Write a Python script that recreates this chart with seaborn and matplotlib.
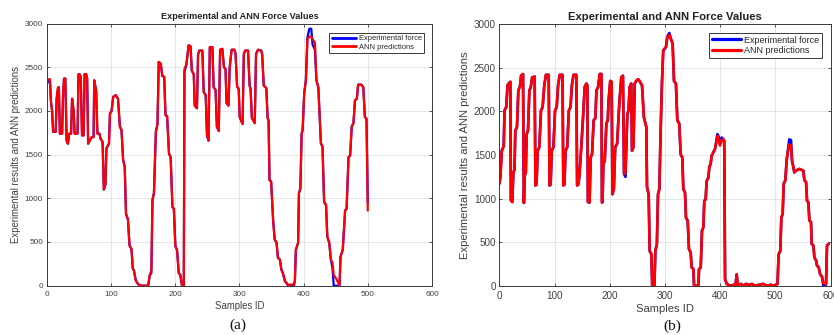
import matplotlib
matplotlib.use("Agg")
import matplotlib.pyplot as plt
import seaborn as sns
import pandas as pd

# ---------------- data: panel (a) ----------------
xa = [0, 1.5, 5, 6.5, 8.5, 10, 14, 15.5, 17.5, 19,
      20.5, 24, 25.5, 27, 29, 31, 33, 35, 38, 39.5,
      42, 43.5, 48, 49.5, 51, 53, 55, 57.5, 59, 61.5,
      63, 64.5, 67, 70, 73, 74, 77, 79, 82, 84,
      87, 89, 91.5, 93, 97, 98.5, 101, 103.5, 107.5, 111,
      114, 116.5, 119, 121.5, 123.5, 126.5, 129, 132, 134, 136,
      138.5, 142, 145, 147, 158, 160.5, 163, 164.7, 167, 170,
      172.5, 174.5, 177.6, 180, 183, 185, 187.5, 190.5, 193, 195.8,
      198, 200.4, 203, 205.6, 208, 210.8, 213.5, 214.5, 217.5, 221,
      224, 226, 229, 230.5, 234, 235.7, 238, 242.4, 244.5, 247.6,
      249.6, 252, 254, 258, 260, 263, 265, 268, 270, 273.5,
      276, 278.5, 280, 283, 285, 288, 292, 294, 296.5, 299,
      300.5, 305, 307, 309, 313.5, 316, 317.5, 319.5, 324, 326,
      329, 334, 335.5, 338, 342, 344, 345.5, 347, 349.5, 352.6,
      355, 358, 360, 363, 365.6, 368, 371, 373.5, 376, 385,
      386.5, 388, 391.5, 392.8, 395, 397, 398.5, 401, 403.6, 406,
      409, 412, 414, 417.7, 420, 423, 427, 429.5, 432, 435,
      437, 440, 442.5, 445, 447, 451, 456, 457.5, 461, 464.7,
      467, 470, 472.5, 475, 477.7, 480, 483, 485, 490, 493,
      495.5, 498, 500]

ann_a = [2330, 2360, 2360, 2120, 1990, 1760, 1760, 2140, 2270, 2270,
         1740, 1740, 2200, 2370, 2370, 1660, 1625, 1740, 1740, 2140,
         2000, 1740, 1740, 2420, 2420, 2390, 1720, 1720, 2420, 2420,
         2370, 1625, 1660, 1700, 1700, 2350, 2230, 1740, 1740, 1680,
         1645, 1100, 1160, 1570, 1625, 1970, 2000, 2160, 2180, 2140,
         1820, 1780, 1440, 1360, 820, 760, 460, 420, 200, 170,
         65, 20, 5, 0, 0, 120, 180, 980, 1060, 1760,
         1850, 2560, 2540, 2400, 2390, 1950, 1940, 1510, 1470, 900,
         880, 450, 410, 145, 125, 0, 0, 2480, 2530, 2750,
         2740, 2460, 2420, 2060, 2030, 2650, 2690, 2690, 2215, 2180,
         1720, 1660, 2730, 2730, 2270, 2240, 1820, 1770, 2700, 2710,
         2500, 2480, 2090, 2060, 2500, 2700, 2700, 2660, 2280, 2250,
         1930, 1850, 2650, 2690, 2690, 2290, 2250, 1920, 1860, 2650,
         2700, 2690, 2650, 2290, 2260, 1920, 1890, 1210, 1190, 750,
         530, 490, 320, 300, 180, 140, 50, 30, 10, 15,
         60, 410, 490, 1060, 1110, 1740, 1780, 2200, 2350, 2820,
         2850, 2850, 2820, 2780, 2350, 2270, 1630, 1590, 960, 920,
         560, 490, 300, 260, 120, 80, 0, 330, 410, 860,
         880, 1470, 1490, 1820, 1860, 2120, 2140, 2300, 2300, 2270,
         1930, 1910, 860]

exp_a = [2290, 2330, 2360, 2120, 1990, 1760, 1760, 2140, 2250, 2270,
         1740, 1740, 2200, 2370, 2370, 1660, 1625, 1740, 1740, 2140,
         2000, 1740, 1740, 2420, 2420, 2390, 1720, 1720, 2420, 2420,
         2370, 1625, 1660, 1700, 1700, 2350, 2230, 1740, 1740, 1680,
         1645, 1100, 1160, 1570, 1625, 1970, 2000, 2160, 2180, 2140,
         1820, 1780, 1440, 1360, 820, 760, 460, 420, 200, 170,
         65, 20, 5, 0, 0, 120, 145, 980, 1060, 1760,
         1850, 2560, 2540, 2400, 2390, 1950, 1940, 1510, 1470, 900,
         880, 450, 410, 145, 125, 0, 0, 2440, 2530, 2750,
         2740, 2460, 2420, 2060, 2030, 2650, 2690, 2690, 2215, 2180,
         1720, 1660, 2730, 2730, 2270, 2240, 1820, 1770, 2700, 2710,
         2500, 2480, 2090, 2060, 2500, 2700, 2700, 2660, 2280, 2250,
         1930, 1850, 2650, 2690, 2690, 2290, 2250, 1920, 1860, 2650,
         2700, 2690, 2650, 2290, 2260, 1920, 1890, 1210, 1190, 750,
         530, 490, 320, 300, 180, 140, 50, 30, 0, 0,
         60, 410, 490, 1060, 1110, 1740, 1780, 2200, 2350, 2840,
         2940, 2940, 2760, 2700, 2350, 2270, 1630, 1590, 960, 920,
         560, 490, 300, 200, 0, 0, 0, 330, 410, 860,
         880, 1470, 1490, 1820, 1860, 2120, 2140, 2300, 2300, 2270,
         1930, 1910, 950]

# ---------------- data: panel (b) ----------------
xb = [0, 2, 4.5, 8, 9.5, 12.5, 15, 17, 20, 21,
      23.5, 25.5, 27.5, 29, 32, 34.5, 37.5, 39.5, 43, 44.5,
      46, 48, 49.5, 52, 54.5, 57, 59.5, 64, 65.5, 67.5,
      69.5, 72.5, 75.5, 78.5, 81.5, 84.5, 89.5, 91, 93, 95,
      98, 101, 104, 106.5, 109.5, 114.5, 116, 118, 120, 123,
      126, 129, 131.5, 134.5, 139.5, 141, 143, 145, 148.5, 151.7,
      154.7, 157.7, 159.5, 160.5, 163.5, 165.5, 168, 171, 174, 176,
      179, 182, 185, 186, 187, 188.5, 191, 194, 196.5, 198,
      201, 203.5, 205, 207.5, 210, 213.5, 216.3, 218, 221, 224,
      226, 228.5, 232, 234, 236.2, 239, 240.4, 243, 245.3, 248,
      251.3, 254, 258.5, 262, 266.4, 267.6, 270.6, 272.4, 275.5, 277,
      281, 282.7, 285.5, 287.5, 290, 292, 294.5, 297, 302, 304.4,
      308, 311, 314, 316.5, 320, 322.5, 326, 328.5, 331.5, 333.4,
      336.4, 338.2, 341.3, 343.6, 346.7, 348.5, 351.6, 352.8, 360.7, 361.8,
      364.9, 367.2, 369.6, 371.4, 373.8, 375.6, 378.7, 380.5, 382.9, 384.7,
      387.7, 390.8, 392.6, 395, 396.8, 399.8, 402.9, 405.9, 407.5, 409,
      412, 418, 425, 428, 430, 432, 438, 442, 447, 452,
      458, 463, 470, 478, 485, 492, 498, 504, 506, 509,
      511, 513.3, 515.2, 518.2, 520.6, 522.4, 525.4, 528.5, 530.3, 531.5,
      534.5, 537.5, 543.6, 550.8, 552.7, 555.7, 557.5, 559.9, 561.7, 564.7,
      565.9, 569, 570.8, 573.8, 575.6, 578.7, 581.1, 584.7, 587.1, 590.7,
      591.9, 593.7, 596.7]

ann_b = [1170, 1250, 1550, 1600, 2010, 2050, 2300, 2320, 2340, 980,
         960, 1300, 1330, 1780, 1820, 2240, 2290, 2410, 2430, 950,
         1260, 1300, 1740, 1780, 2240, 2280, 2390, 2400, 1150, 1160,
         1550, 1590, 2010, 2050, 2300, 2420, 2420, 1150, 1160, 1550,
         1590, 2010, 2050, 2300, 2420, 2420, 1150, 1160, 1550, 1590,
         2010, 2050, 2300, 2420, 2420, 1150, 1160, 1250, 1590, 1930,
         2280, 2320, 2300, 960, 955, 1470, 1510, 1900, 1920, 2240,
         2280, 2430, 2430, 955, 960, 1400, 1430, 1860, 1900, 2125,
         2350, 2340, 1050, 1110, 1590, 1630, 1970, 2140, 2390, 2410,
         1280, 1300, 1970, 2010, 2280, 2320, 1550, 1590, 2320, 2350,
         2370, 2350, 2300, 1930, 1820, 1130, 1050, 400, 360, 0,
         0, 400, 480, 1050, 1110, 1700, 2300, 2700, 2740, 2850,
         2880, 2830, 2780, 2350, 2320, 1900, 1860, 1510, 1470, 1110,
         1070, 780, 745, 420, 380, 210, 190, 0, 0, 190,
         210, 630, 670, 975, 990, 1200, 1240, 1360, 1400, 1490,
         1530, 1570, 1630, 1720, 1700, 1610, 1670, 1680, 1660, 75,
         20, 0, 10, 10, 130, 10, 20, 0, 20, 10,
         20, 0, 10, 20, 0, 10, 0, 20, 360, 400,
         785, 820, 1170, 1210, 1440, 1530, 1620, 1610, 1440, 1400,
         1300, 1320, 1340, 1320, 1210, 1190, 975, 955, 750, 730,
         480, 460, 325, 290, 230, 210, 135, 100, 30, 20,
         20, 460, 480]

exp_b = [1170, 1250, 1550, 1600, 2010, 2050, 2300, 2320, 2340, 980,
         960, 1300, 1330, 1780, 1820, 2240, 2290, 2410, 2430, 950,
         1260, 1300, 1740, 1780, 2240, 2280, 2390, 2400, 1150, 1160,
         1550, 1590, 2010, 2050, 2300, 2420, 2420, 1150, 1160, 1550,
         1590, 2010, 2050, 2300, 2420, 2420, 1150, 1160, 1550, 1590,
         2010, 2050, 2300, 2420, 2420, 1150, 1160, 1250, 1590, 1930,
         2280, 2320, 2300, 960, 955, 1470, 1510, 1900, 1920, 2240,
         2280, 2430, 2430, 955, 960, 1400, 1430, 1860, 1900, 2125,
         2350, 2340, 1050, 1110, 1590, 1630, 1970, 2140, 2390, 2410,
         1280, 1250, 1970, 2010, 2280, 2320, 1550, 1590, 2320, 2350,
         2370, 2350, 2300, 1930, 1820, 1130, 1050, 400, 360, 0,
         0, 400, 480, 1050, 1110, 1700, 2300, 2700, 2740, 2860,
         2900, 2830, 2780, 2350, 2320, 1900, 1860, 1510, 1470, 1110,
         1070, 780, 745, 420, 380, 210, 190, 0, 0, 190,
         210, 630, 670, 975, 990, 1200, 1240, 1360, 1400, 1490,
         1530, 1570, 1630, 1740, 1720, 1650, 1700, 1680, 1660, 75,
         20, 0, 10, 10, 130, 10, 20, 0, 20, 10,
         20, 0, 10, 20, 0, 10, 0, 20, 360, 400,
         785, 820, 1170, 1210, 1440, 1530, 1680, 1670, 1420, 1400,
         1300, 1320, 1340, 1320, 1210, 1190, 975, 955, 750, 730,
         480, 460, 325, 290, 230, 210, 135, 100, 0, 0,
         20, 460, 480]

series_names = ["Experimental force", "ANN predictions"]
series_colors = ["#0000ff", "#ff0000"]
title_text = "Experimental and ANN Force Values"
xlabel_text = "Samples ID"
ylabel_text = "Experimental results and ANN predictions"
xticks = [0, 100, 200, 300, 400, 500, 600]
yticks = [0, 500, 1000, 1500, 2000, 2500, 3000]
captions = ["(a)", "(b)"]

assert len(xa) == len(ann_a) == len(exp_a), (len(xa), len(ann_a), len(exp_a))
assert len(xb) == len(ann_b) == len(exp_b), (len(xb), len(ann_b), len(exp_b))

sns.set_theme(style="whitegrid")
plt.rcParams["font.family"] = ["Liberation Sans", "DejaVu Sans"]

fig = plt.figure(figsize=(8.34, 3.35), dpi=100)
W, H = 834, 335


def add_axes(l, r, t, b):
    return fig.add_axes([l / W, 1 - b / H, (r - l) / W, (b - t) / H])


panels = [
    dict(ax=add_axes(46.7, 432, 23.5, 285.7), x=xa, exp=exp_a, ann=ann_a,
         fs=5.9, tfs=6.6, lfs=6.9, legfs=5.4, lw=1.6,
         leg_anchor=(0.979, 0.964), cap_xy=(237.5, 325)),
    dict(ax=add_axes(499.3, 830.5, 24.3, 285.7), x=xb, exp=exp_b, ann=ann_b,
         fs=7.1, tfs=8.1, lfs=8.1, legfs=6.5, lw=1.9,
         leg_anchor=(0.974, 0.967), cap_xy=(672.5, 326)),
]

for i, p in enumerate(panels):
    ax = p["ax"]
    df = pd.DataFrame({
        "Samples ID": list(p["x"]) * 2,
        "value": list(p["exp"]) + list(p["ann"]),
        "series": [series_names[0]] * len(p["x"]) + [series_names[1]] * len(p["x"]),
    })
    sns.lineplot(data=df, x="Samples ID", y="value", hue="series",
                 hue_order=series_names, palette=series_colors,
                 estimator=None, sort=False, linewidth=p["lw"], ax=ax,
                 legend=False)
    ax.set_xlim(0, 600)
    ax.set_ylim(0, 3000)
    ax.set_xticks(xticks)
    ax.set_yticks(yticks)
    ax.set_facecolor("white")
    ax.grid(True, color="#e2e2e2", linewidth=0.6)
    ax.set_axisbelow(True)
    for s in ax.spines.values():
        s.set_visible(True)
        s.set_color("#3a3a3a")
        s.set_linewidth(0.7)
    ax.tick_params(axis="both", which="major", direction="in", length=2.5,
                   width=0.6, color="#3a3a3a", labelsize=p["fs"],
                   labelcolor="#404040", top=True, right=True,
                   bottom=True, left=True)
    ax.tick_params(axis="x", pad=4)
    ax.tick_params(axis="y", pad=2.5)
    ax.set_title(title_text, fontsize=p["tfs"], fontweight="bold",
                 color="#222222", pad=3)
    ax.set_xlabel(xlabel_text, fontsize=p["lfs"], color="#404040", labelpad=2)
    ax.set_ylabel(ylabel_text, fontsize=p["lfs"], color="#404040", labelpad=3)
    lines = ax.get_lines()
    leg = ax.legend(lines[:2], series_names, loc="upper right",
                    bbox_to_anchor=p["leg_anchor"], borderaxespad=0,
                    fontsize=p["legfs"], frameon=True, fancybox=False,
                    framealpha=1, edgecolor="#3a3a3a", handlelength=3.3,
                    handletextpad=0.3, borderpad=0.3, labelspacing=0.15)
    leg.get_frame().set_linewidth(0.7)
    for h in leg.get_lines():
        h.set_linewidth(p["lw"] + 0.4)
    fig.text(p["cap_xy"][0] / W, 1 - p["cap_xy"][1] / H, captions[i],
             ha="center", va="center", fontsize=11,
             family=["Liberation Serif", "DejaVu Serif"], color="#111111")

fig.savefig("out.png", dpi=100)
